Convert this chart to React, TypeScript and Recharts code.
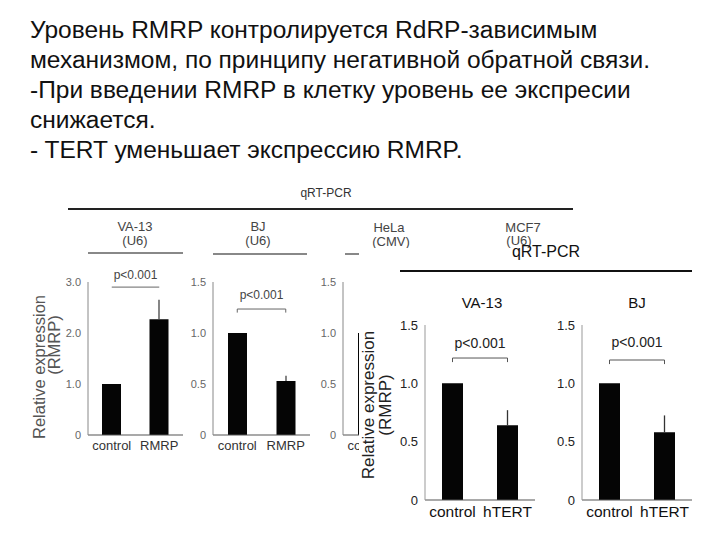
import { BarChart, Bar, XAxis, YAxis, ErrorBar, ReferenceLine } from "recharts";

const titleLines = [
  "Уровень RMRP контролируется RdRP-зависимым",
  "механизмом, по принципу негативной обратной связи.",
  "-При введении RMRP в клетку уровень ее экспресии",
  "снижается.",
  "- TERT уменьшает экспрессию RMRP.",
];

const rmrpCategories = ["control", "RMRP"];
const tertCategories = ["control", "hTERT"];

// back figure (RMRP overexpression)
const va13RmrpValues = [1.0, 2.27];
const va13RmrpErrors = [0, 0.38];
const bjRmrpValues = [1.0, 0.53];
const bjRmrpErrors = [0, 0.05];
const helaRmrpValues = [1.0, null];
const helaRmrpErrors = [0, 0];

// front figure (hTERT)
const va13TertValues = [1.0, 0.64];
const va13TertErrors = [0, 0.13];
const bjTertValues = [1.0, 0.58];
const bjTertErrors = [0, 0.145];

const ticksTo3 = [0, 1, 2, 3];
const ticksTo15 = [0, 0.5, 1, 1.5];
const pLabel = "p<0.001";

const FONT = '"Liberation Sans", Arial, Helvetica, sans-serif';

const rows = (cats: string[], values: (number | null)[], errors: number[]) =>
  cats.map((name, i) => ({ name, value: values[i], err: [0, errors[i]] }));

const fmt = (v: number) => (v === 0 ? "0" : v.toFixed(1));

type Look = {
  yAxisWidth: number;
  marginTop: number;
  plotTop: number;
  plotHeight: number;
  xAxisHeight: number;
  barSize: number;
  tickFont: number;
  tickFill: string;
  catFont: number;
  catFill: string;
  yAxisStroke: string;
  xAxisStroke: string;
  pFont: number;
  pFill: string;
  bracketStroke: string;
  errStroke: string;
};

const backLook: Look = {
  yAxisWidth: 30,
  marginTop: 22,
  plotTop: 282,
  plotHeight: 153,
  xAxisHeight: 25,
  barSize: 19,
  tickFont: 11,
  tickFill: "#666",
  catFont: 13,
  catFill: "#333",
  yAxisStroke: "#888",
  xAxisStroke: "#555",
  pFont: 12,
  pFill: "#444",
  bracketStroke: "#666",
  errStroke: "#444",
};

const frontLook: Look = {
  yAxisWidth: 40,
  marginTop: 10,
  plotTop: 325,
  plotHeight: 175,
  xAxisHeight: 30,
  barSize: 21,
  tickFont: 13,
  tickFill: "#222",
  catFont: 15.5,
  catFill: "#111",
  yAxisStroke: "#999",
  xAxisStroke: "#555",
  pFont: 14,
  pFill: "#222",
  bracketStroke: "#555",
  errStroke: "#333",
};

type Bracket = { y: number; drop: number; offset: number };

function Panel(props: {
  look: Look;
  plotLeft: number;
  plotWidth: number;
  data: any[];
  cats: string[];
  domain: [number, number];
  ticks: number[];
  bracket?: Bracket;
}) {
  const { look, plotLeft, plotWidth, data, cats, domain, ticks, bracket } = props;
  const width = look.yAxisWidth + plotWidth;
  const height = look.marginTop + look.plotHeight + look.xAxisHeight;
  const lines: any[] = [];
  if (bracket) {
    lines.push(
      <ReferenceLine
        key="top"
        segment={[
          { x: cats[0], y: bracket.y },
          { x: cats[1], y: bracket.y },
        ]}
        stroke={look.bracketStroke}
        strokeWidth={1}
        ifOverflow="visible"
        label={{
          value: pLabel,
          position: "top",
          offset: bracket.offset,
          fill: look.pFill,
          fontSize: look.pFont,
        }}
      />
    );
    if (bracket.drop > 0) {
      cats.forEach((c) =>
        lines.push(
          <ReferenceLine
            key={c}
            segment={[
              { x: c, y: bracket.y },
              { x: c, y: bracket.y - bracket.drop },
            ]}
            stroke={look.bracketStroke}
            strokeWidth={1}
            ifOverflow="visible"
          />
        )
      );
    }
  }
  return (
    <div
      style={{
        position: "absolute",
        left: plotLeft - look.yAxisWidth,
        top: look.plotTop - look.marginTop,
      }}
    >
      <BarChart
        width={width}
        height={height}
        data={data}
        margin={{ top: look.marginTop, right: 0, left: 0, bottom: 0 }}
      >
        <XAxis
          dataKey="name"
          interval={0}
          height={look.xAxisHeight}
          tickLine={false}
          tickSize={4}
          tickMargin={2}
          axisLine={{ stroke: look.xAxisStroke, strokeWidth: 1.2 }}
          tick={{ fontSize: look.catFont, fill: look.catFill }}
        />
        <YAxis
          type="number"
          width={look.yAxisWidth}
          domain={domain}
          ticks={ticks}
          tickFormatter={fmt}
          tickLine={false}
          tickSize={6}
          tickMargin={1}
          axisLine={{ stroke: look.yAxisStroke, strokeWidth: 1 }}
          tick={{ fontSize: look.tickFont, fill: look.tickFill }}
        />
        <Bar dataKey="value" fill="#050505" barSize={look.barSize} isAnimationActive={false}>
          <ErrorBar dataKey="err" width={0} stroke={look.errStroke} strokeWidth={1.3} direction="y" />
        </Bar>
        {lines}
      </BarChart>
    </div>
  );
}

function Caption(props: { x: number; y: number; size: number; color: string; children: any; rotate?: boolean }) {
  return (
    <div
      style={{
        position: "absolute",
        left: props.x,
        top: props.y,
        transform: `translate(-50%, -50%)${props.rotate ? " rotate(-90deg)" : ""}`,
        fontSize: props.size,
        color: props.color,
        lineHeight: 1,
        whiteSpace: "nowrap",
        textAlign: "center",
      }}
    >
      {props.children}
    </div>
  );
}

function Rule(props: { x1: number; x2: number; y: number; h: number; color: string }) {
  return (
    <div
      style={{
        position: "absolute",
        left: props.x1,
        top: props.y - props.h / 2,
        width: props.x2 - props.x1,
        height: props.h,
        background: props.color,
      }}
    />
  );
}

export default function App() {
  return (
    <div
      style={{
        position: "absolute",
        left: 0,
        top: 0,
        width: 720,
        height: 540,
        overflow: "hidden",
        background: "#fff",
        fontFamily: FONT,
      }}
    >
      <div
        style={{
          position: "absolute",
          left: 30,
          top: 15,
          fontSize: 23,
          lineHeight: "30px",
          color: "#111",
          whiteSpace: "nowrap",
          transform: "scaleX(1.065)",
          transformOrigin: "0 0",
        }}
      >
        {titleLines.map((t) => (
          <div key={t}>{t}</div>
        ))}
      </div>

      {/* back figure */}
      <Caption x={326} y={193} size={12} color="#333">qRT-PCR</Caption>
      <Rule x1={68} x2={573} y={209} h={2} color="#222" />
      <Caption x={135} y={226} size={13} color="#444">VA-13</Caption>
      <Caption x={135} y={240} size={13} color="#444">(U6)</Caption>
      <Rule x1={88} x2={183} y={253} h={1.5} color="#888" />
      <Caption x={258} y={226} size={13} color="#444">BJ</Caption>
      <Caption x={258} y={240} size={13} color="#444">(U6)</Caption>
      <Rule x1={213} x2={307} y={254} h={1.5} color="#888" />
      <Rule x1={345} x2={440} y={254} h={1.5} color="#888" />
      <Caption x={389} y={227} size={13} color="#444">HeLa</Caption>
      <Caption x={391} y={241} size={13} color="#444">(CMV)</Caption>
      <Caption x={523} y={227} size={13} color="#444">MCF7</Caption>
      <Caption x={519} y={240} size={13} color="#444">(U6)</Caption>
      <Caption x={39} y={367} size={16.5} color="#555" rotate>Relative expression</Caption>
      <Caption x={54} y={345} size={16.5} color="#555" rotate>(RMRP)</Caption>

      <Panel
        look={backLook}
        plotLeft={88}
        plotWidth={95}
        data={rows(rmrpCategories, va13RmrpValues, va13RmrpErrors)}
        cats={rmrpCategories}
        domain={[0, 3]}
        ticks={ticksTo3}
        bracket={{ y: 2.9, drop: 0, offset: 8 }}
      />
      <Panel
        look={backLook}
        plotLeft={213}
        plotWidth={97}
        data={rows(rmrpCategories, bjRmrpValues, bjRmrpErrors)}
        cats={rmrpCategories}
        domain={[0, 1.5]}
        ticks={ticksTo15}
        bracket={{ y: 1.235, drop: 0.035, offset: 10 }}
      />
      <Panel
        look={backLook}
        plotLeft={343}
        plotWidth={96}
        data={rows(rmrpCategories, helaRmrpValues, helaRmrpErrors)}
        cats={rmrpCategories}
        domain={[0, 1.5]}
        ticks={ticksTo15}
      />

      {/* front figure pasted over the back one */}
      <div
        style={{
          position: "absolute",
          left: 358.5,
          top: 248,
          width: 362,
          height: 292,
          background: "#fff",
        }}
      />
      <Caption x={546} y={252} size={16} color="#111">qRT-PCR</Caption>
      <Rule x1={400} x2={692} y={271} h={2} color="#111" />
      <Caption x={482} y={302} size={15} color="#111">VA-13</Caption>
      <Caption x={637} y={302} size={15} color="#111">BJ</Caption>
      <Caption x={368} y={405} size={17} color="#222" rotate>Relative expression</Caption>
      <Caption x={385} y={405} size={17} color="#222" rotate>(RMRP)</Caption>

      <Panel
        look={frontLook}
        plotLeft={425}
        plotWidth={110}
        data={rows(tertCategories, va13TertValues, va13TertErrors)}
        cats={tertCategories}
        domain={[0, 1.5]}
        ticks={ticksTo15}
        bracket={{ y: 1.217, drop: 0.035, offset: 10 }}
      />
      <Panel
        look={frontLook}
        plotLeft={582}
        plotWidth={110}
        data={rows(tertCategories, bjTertValues, bjTertErrors)}
        cats={tertCategories}
        domain={[0, 1.5]}
        ticks={ticksTo15}
        bracket={{ y: 1.2, drop: 0.035, offset: 13 }}
      />
    </div>
  );
}
